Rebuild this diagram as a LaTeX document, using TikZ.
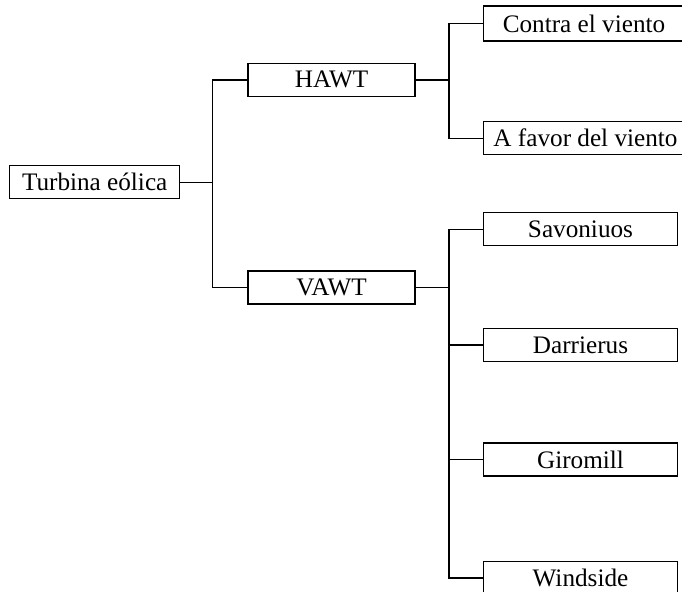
\documentclass[tikz,border=0pt]{standalone}
\usepackage{fontspec}
\setmainfont{Liberation Serif}
\usetikzlibrary{positioning}

\tikzset{
  box/.style={draw, rectangle, line width=0.7pt, minimum height=16.5pt, inner sep=1pt,
    font=\fontsize{12.6}{15}\selectfont},
  link/.style={line width=0.7pt}
}

\begin{document}
\begin{tikzpicture}
\clip (0,0) rectangle (341pt,-295.5pt);

% nodes
\node[box, minimum width=85pt, anchor=north west] (turbina) at (4.5pt,-82.5pt) {Turbina eólica};
\node[box, minimum width=83.5pt] (hawt) [above right=34pt and 33.5pt of turbina] {HAWT};
\node[box, minimum width=83.5pt] (vawt) [below right=35.5pt and 33.5pt of turbina] {VAWT};
\node[box, minimum width=100.5pt, minimum height=17.5pt] (contra) [above right=10.5pt and 33.5pt of hawt] {Contra el viento};
\node[box, minimum width=102pt] (favor) [below right=12pt and 33.5pt of hawt] {A favor del viento};
\node[box, minimum width=97pt] (savonius) [above right=12pt and 33.5pt of vawt] {Savoniuos};
\node[box, minimum width=97pt] (darrieus) [below right=11.5pt and 33.5pt of vawt] {Darrierus};
\node[box, minimum width=97pt] (giromill) [below=40pt of darrieus] {Giromill};
\node[box, minimum width=97pt] (windside) [below=42pt of giromill] {Windside};

% lines
\coordinate (j1) at ([xshift=16pt]turbina.east);
\coordinate (j2) at ([xshift=16.5pt]hawt.east);
\coordinate (j3) at ([xshift=16.5pt]vawt.east);
\draw[link] (turbina.east) -- (j1);
\draw[link] (hawt.west) -| (j1) |- (vawt.west);
\draw[link] (hawt.east) -- (j2);
\draw[link] (contra.west) -| (j2) |- (favor.west);
\draw[link] (vawt.east) -- (j3);
\draw[link] (savonius.west) -| (j3) |- (windside.west);
\draw[link] (darrieus.west) -- (darrieus.west -| j3);
\draw[link] (giromill.west) -- (giromill.west -| j3);
\end{tikzpicture}
\end{document}
